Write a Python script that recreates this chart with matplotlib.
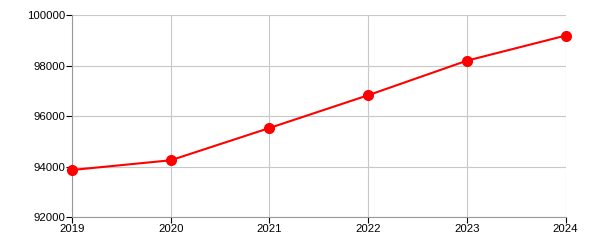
import matplotlib
matplotlib.use("Agg")
import matplotlib.pyplot as plt

years = [2019, 2020, 2021, 2022, 2023, 2024]
values = [93865, 94250, 95530, 96830, 98200, 99195]
yticks = [92000, 94000, 96000, 98000, 100000]

plt.rcParams['font.family'] = ['Liberation Sans', 'DejaVu Sans']

fig = plt.figure(figsize=(6, 2.5), dpi=100)
ax = fig.add_axes([0.12, 0.132, 0.8225, 0.8067])

ax.plot(years, values, color='#ff0000', linewidth=1.5, marker='o', markersize=7,
        zorder=3, clip_on=False)

ax.set_xlim(2019, 2024)
ax.set_ylim(92000, 100000)
ax.set_xticks(years)
ax.set_yticks(yticks)
ax.set_xticklabels([str(y) for y in years])
ax.set_yticklabels([str(v) for v in yticks])

ax.grid(True, color='#c8c8c8', linewidth=0.8)
ax.set_axisbelow(True)
for s in ['top', 'right']:
    ax.spines[s].set_visible(False)
for s in ['left', 'bottom']:
    ax.spines[s].set_color('#999999')
    ax.spines[s].set_linewidth(0.8)
ax.tick_params(axis='both', length=4, width=0.8, color='#000000', labelsize=8.2, pad=1)

fig.savefig('out.png', dpi=100)
